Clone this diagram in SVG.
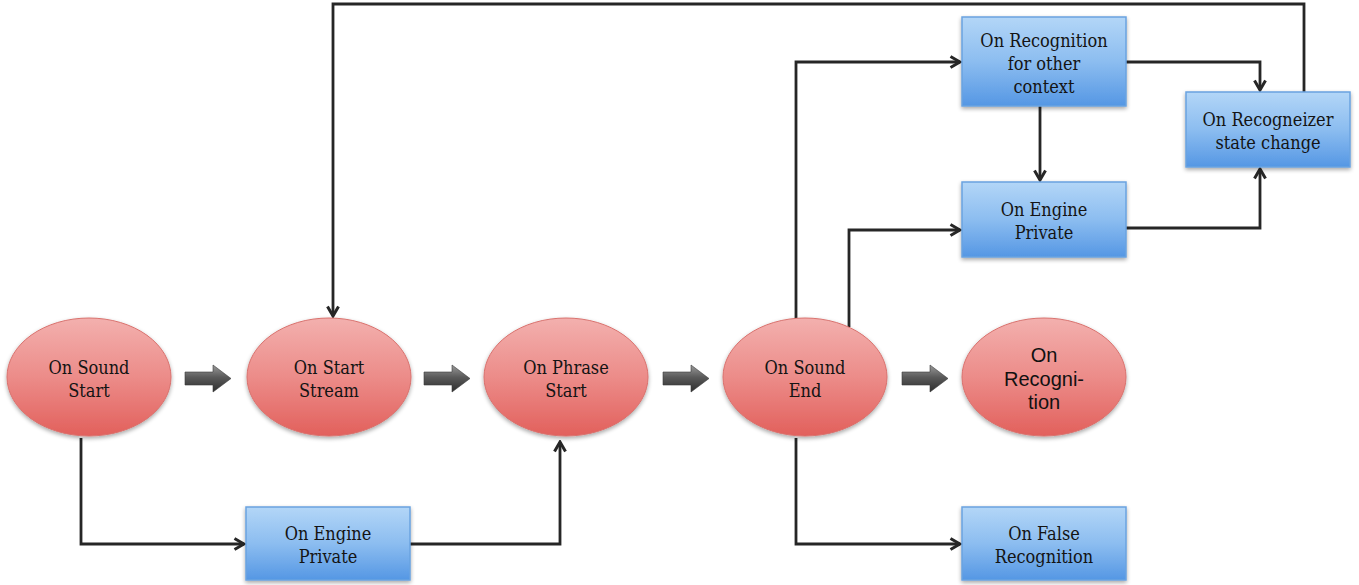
<svg xmlns="http://www.w3.org/2000/svg" width="1359" height="585" viewBox="0 0 1359 585">
<defs>
  <linearGradient id="redFill" x1="0" y1="0" x2="0" y2="1">
    <stop offset="0" stop-color="#f3b0ae"/>
    <stop offset="0.5" stop-color="#ec8c89"/>
    <stop offset="1" stop-color="#e2605c"/>
  </linearGradient>
  <linearGradient id="blueFill" x1="0" y1="0" x2="0" y2="1">
    <stop offset="0" stop-color="#b3d6f7"/>
    <stop offset="0.5" stop-color="#8cbdf0"/>
    <stop offset="1" stop-color="#5597e4"/>
  </linearGradient>
  <linearGradient id="arrowFill" x1="0" y1="0" x2="0" y2="1">
    <stop offset="0" stop-color="#9a9a9a"/>
    <stop offset="0.45" stop-color="#5a5a5a"/>
    <stop offset="1" stop-color="#2e2e2e"/>
  </linearGradient>
  <filter id="shadow" x="-10%" y="-10%" width="120%" height="130%">
    <feGaussianBlur in="SourceAlpha" stdDeviation="2"/>
    <feOffset dx="0" dy="2" result="b"/>
    <feComponentTransfer><feFuncA type="linear" slope="0.35"/></feComponentTransfer>
    <feMerge><feMergeNode/><feMergeNode in="SourceGraphic"/></feMerge>
  </filter>
  <marker id="chev" viewBox="0 0 14 14" refX="12" refY="7" markerWidth="14" markerHeight="14" markerUnits="userSpaceOnUse" orient="auto">
    <path d="M2.5,1.5 L12,7 L2.5,12.5" fill="none" stroke="#262626" stroke-width="3" stroke-linejoin="miter"/>
  </marker>
  <path id="blockArrow" d="M0,7 L28,7 L28,0 L46,13.5 L28,27 L28,20 L0,20 Z"/>
</defs>
<style>
  .ell { fill: url(#redFill); stroke: #d9716d; stroke-width: 1; filter: url(#shadow); }
  .box { fill: url(#blueFill); stroke: #6aa3e0; stroke-width: 1.5; filter: url(#shadow); }
  .lbl { font-family: "DejaVu Serif Condensed", "Liberation Serif", serif; font-size: 18px; fill: #141414; text-anchor: middle; }
  .sans { font-family: "Liberation Sans", Arial, sans-serif; font-size: 20px; fill: #111; text-anchor: middle; }
  .conn { fill: none; stroke: #262626; stroke-width: 2.8; stroke-linejoin: miter; }
  .blk { fill: url(#arrowFill); stroke: #3a3a3a; stroke-width: 0.6; }
</style>

<rect width="1359" height="585" fill="#ffffff"/>

<!-- connectors -->
<g id="connectors">
  <path class="conn" d="M81,438 V544 H244" marker-end="url(#chev)"/>
  <path class="conn" d="M410,544 H560 V442" marker-end="url(#chev)"/>
  <path class="conn" d="M1304,92 V4 H333 V316" marker-end="url(#chev)"/>
  <path class="conn" d="M796,318 V62 H960" marker-end="url(#chev)"/>
  <path class="conn" d="M849,327 V230 H960" marker-end="url(#chev)"/>
  <path class="conn" d="M796,438 V544 H960" marker-end="url(#chev)"/>
  <path class="conn" d="M1126,62 H1260 V90" marker-end="url(#chev)"/>
  <path class="conn" d="M1040,106 V180" marker-end="url(#chev)"/>
  <path class="conn" d="M1126,228 H1260 V169" marker-end="url(#chev)"/>
  <!-- block arrows between the main states -->
  <use href="#blockArrow" class="blk" x="185" y="365"/>
  <use href="#blockArrow" class="blk" x="424" y="365"/>
  <use href="#blockArrow" class="blk" x="663" y="365"/>
  <use href="#blockArrow" class="blk" x="902" y="365"/>
</g>

<!-- state nodes -->
<g id="sound-start">
  <ellipse class="ell" cx="89" cy="377" rx="82" ry="59"/>
  <text class="lbl" x="89" y="374">On Sound</text>
  <text class="lbl" x="89" y="397">Start</text>
</g>
<g id="start-stream">
  <ellipse class="ell" cx="329" cy="377" rx="82" ry="59"/>
  <text class="lbl" x="329" y="374">On Start</text>
  <text class="lbl" x="329" y="397">Stream</text>
</g>
<g id="phrase-start">
  <ellipse class="ell" cx="566" cy="377" rx="82" ry="59"/>
  <text class="lbl" x="566" y="374">On Phrase</text>
  <text class="lbl" x="566" y="397">Start</text>
</g>
<g id="sound-end">
  <ellipse class="ell" cx="805" cy="377" rx="82" ry="59"/>
  <text class="lbl" x="805" y="374">On Sound</text>
  <text class="lbl" x="805" y="397">End</text>
</g>
<g id="recognition">
  <ellipse class="ell" cx="1044" cy="377" rx="82" ry="59"/>
  <text class="sans" x="1044" y="362">On</text>
  <text class="sans" x="1044" y="386">Recogni-</text>
  <text class="sans" x="1044" y="409">tion</text>
</g>

<!-- event boxes -->
<g id="engine-private-low">
  <rect class="box" x="246" y="507" width="164" height="73"/>
  <text class="lbl" x="328" y="540">On Engine</text>
  <text class="lbl" x="328" y="563">Private</text>
</g>
<g id="recognition-other">
  <rect class="box" x="962" y="17" width="164" height="89"/>
  <text class="lbl" x="1044" y="47">On Recognition</text>
  <text class="lbl" x="1044" y="70">for other</text>
  <text class="lbl" x="1044" y="93">context</text>
</g>
<g id="engine-private-high">
  <rect class="box" x="962" y="182" width="164" height="75"/>
  <text class="lbl" x="1044" y="216">On Engine</text>
  <text class="lbl" x="1044" y="239">Private</text>
</g>
<g id="recognizer-state">
  <rect class="box" x="1186" y="92" width="164" height="75"/>
  <text class="lbl" x="1268" y="126">On Recogneizer</text>
  <text class="lbl" x="1268" y="149">state change</text>
</g>
<g id="false-recognition">
  <rect class="box" x="962" y="507" width="164" height="73"/>
  <text class="lbl" x="1044" y="540">On False</text>
  <text class="lbl" x="1044" y="563">Recognition</text>
</g>
</svg>
